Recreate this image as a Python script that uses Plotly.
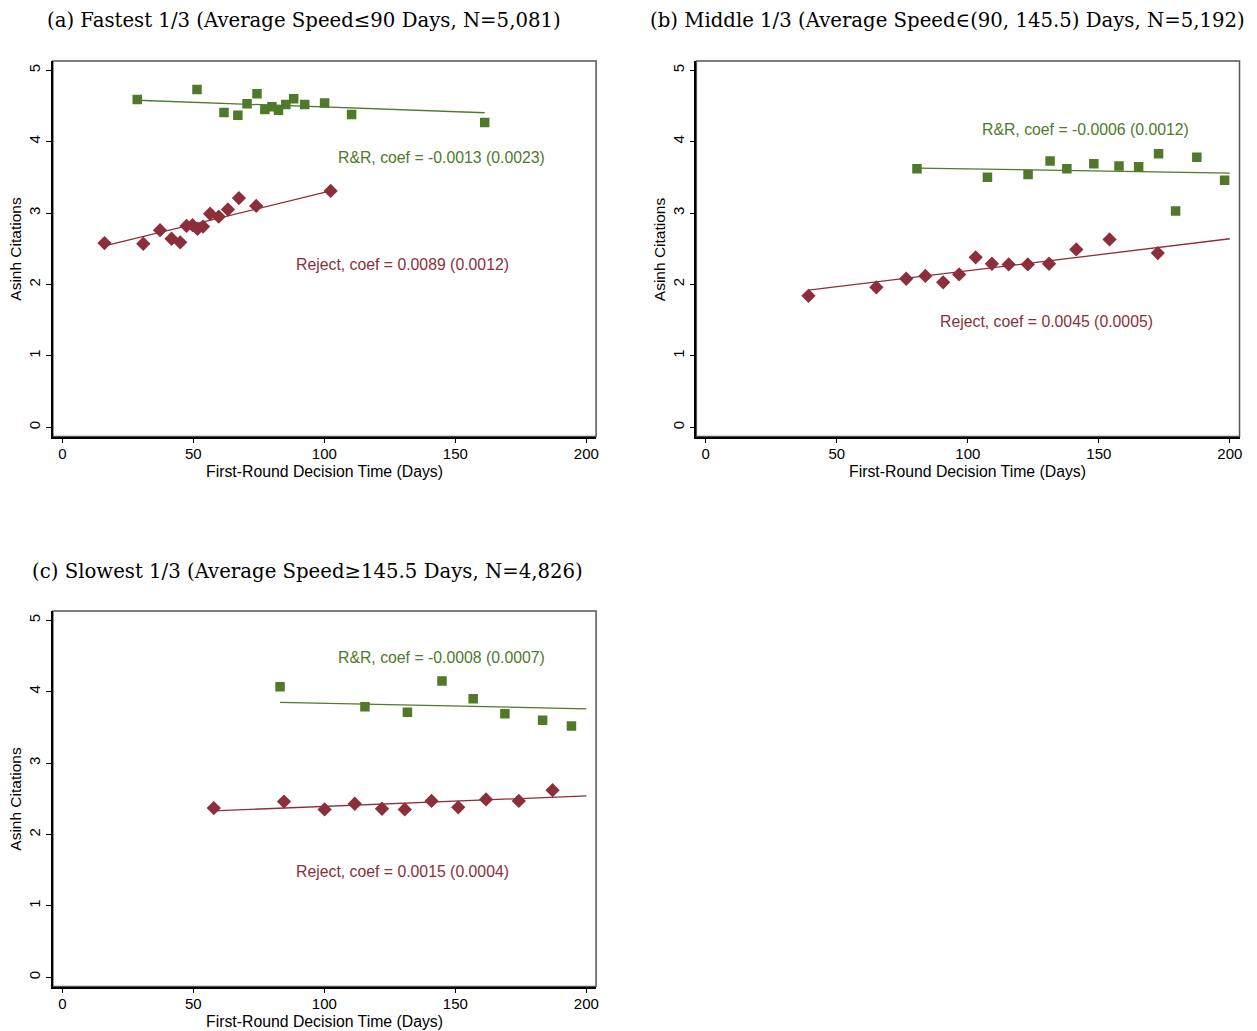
import plotly.graph_objects as go

# ---------------- data ----------------
# Panel (a) Fastest 1/3
a_rr_x = [28.6, 51.4, 61.7, 67.0, 70.5, 74.3, 77.3, 80.0, 82.5, 85.3, 88.3, 92.5, 100.1, 110.4, 161.2]
a_rr_y = [4.59, 4.73, 4.41, 4.37, 4.53, 4.67, 4.45, 4.49, 4.44, 4.52, 4.60, 4.52, 4.54, 4.38, 4.27]
a_rj_x = [16.1, 30.9, 37.3, 41.7, 45.0, 47.4, 49.7, 51.6, 53.7, 56.4, 59.7, 63.2, 67.4, 74.0, 102.4]
a_rj_y = [2.58, 2.57, 2.76, 2.64, 2.59, 2.82, 2.83, 2.78, 2.81, 2.99, 2.95, 3.05, 3.21, 3.10, 3.31]
a_rr_fit_x = [28.6, 161.2]
a_rr_fit_y = [4.58, 4.405]
a_rj_fit_x = [16.1, 102.4]
a_rj_fit_y = [2.54, 3.31]

# Panel (b) Middle 1/3
b_rr_x = [80.6, 107.5, 123.0, 131.4, 137.8, 148.1, 157.7, 165.2, 172.8, 179.3, 187.4, 198.0]
b_rr_y = [3.62, 3.50, 3.54, 3.73, 3.62, 3.69, 3.66, 3.65, 3.83, 3.03, 3.78, 3.46]
b_rj_x = [39.2, 65.1, 76.5, 83.8, 90.6, 96.7, 103.0, 109.2, 115.6, 122.9, 131.0, 141.4, 154.1, 172.5]
b_rj_y = [1.84, 1.96, 2.08, 2.12, 2.03, 2.14, 2.38, 2.29, 2.28, 2.28, 2.29, 2.49, 2.63, 2.44]
b_rr_fit_x = [80.6, 200.0]
b_rr_fit_y = [3.63, 3.56]
b_rj_fit_x = [39.2, 200.0]
b_rj_fit_y = [1.92, 2.64]

# Panel (c) Slowest 1/3
c_rr_x = [83.1, 115.5, 131.7, 144.9, 156.8, 168.9, 183.3, 194.3]
c_rr_y = [4.07, 3.79, 3.71, 4.15, 3.90, 3.69, 3.60, 3.52]
c_rj_x = [57.8, 84.6, 100.1, 111.6, 122.0, 130.7, 140.9, 151.1, 161.7, 174.2, 187.1]
c_rj_y = [2.37, 2.46, 2.35, 2.43, 2.36, 2.35, 2.47, 2.38, 2.49, 2.47, 2.62]
c_rr_fit_x = [83.1, 200.0]
c_rr_fit_y = [3.85, 3.76]
c_rj_fit_x = [57.8, 200.0]
c_rj_fit_y = [2.33, 2.54]

titles = [
    "(a) Fastest 1/3 (Average Speed\u226490 Days, N=5,081)",
    "(b) Middle 1/3 (Average Speed\u2208(90, 145.5) Days, N=5,192)",
    "(c) Slowest 1/3 (Average Speed\u2265145.5 Days, N=4,826)",
]
rr_labels = [
    "R&R, coef = -0.0013 (0.0023)",
    "R&R, coef = -0.0006 (0.0012)",
    "R&R, coef = -0.0008 (0.0007)",
]
rj_labels = [
    "Reject, coef = 0.0089 (0.0012)",
    "Reject, coef = 0.0045 (0.0005)",
    "Reject, coef = 0.0015 (0.0004)",
]
rr_label_pos = [(144.9, 3.78), (144.9, 4.17), (144.9, 4.48)]
rj_label_pos = [(130.0, 2.28), (130.0, 1.48), (130.0, 1.48)]
x_ticks = [0, 50, 100, 150, 200]
y_ticks = [0, 1, 2, 3, 4, 5]

# ---------------- style ----------------
W, H = 1257, 1031
GREEN = "#4e7a2a"
RED = "#8d2f3a"
SANS = "Liberation Sans, Arial, sans-serif"
SERIF = "DejaVu Serif, serif"

# panel boxes in pixels: (left, right, top, bottom)
boxes = [(53, 597.5, 61, 436.5), (698, 1242.5, 61, 436.5), (53, 597.5, 611, 986.5)]
title_px = [(45, 19), (650, 19), (30, 570)]

panels = [
    (a_rr_x, a_rr_y, a_rj_x, a_rj_y, a_rr_fit_x, a_rr_fit_y, a_rj_fit_x, a_rj_fit_y),
    (b_rr_x, b_rr_y, b_rj_x, b_rj_y, b_rr_fit_x, b_rr_fit_y, b_rj_fit_x, b_rj_fit_y),
    (c_rr_x, c_rr_y, c_rj_x, c_rj_y, c_rr_fit_x, c_rr_fit_y, c_rj_fit_x, c_rj_fit_y),
]

fig = go.Figure()
layout = dict(
    width=W, height=H, margin=dict(l=0, r=0, t=0, b=0),
    paper_bgcolor="white", plot_bgcolor="white", showlegend=False,
    font=dict(family=SANS, size=14, color="black"),
)
annotations = []
shapes = []

for i, (rrx, rry, rjx, rjy, rrfx, rrfy, rjfx, rjfy) in enumerate(panels):
    sfx = "" if i == 0 else str(i + 1)
    xa, ya = "x" + sfx, "y" + sfx
    l, r, t, b = boxes[i]
    layout["xaxis" + sfx] = dict(
        domain=[l / W, r / W], anchor=ya, range=[-3.6, 203.7],
        tickvals=x_ticks, ticks="outside", ticklen=5, tickwidth=1, tickcolor="black",
        showline=True, linecolor="black", linewidth=1.5, showgrid=False, zeroline=False,
        ticklabelstandoff=-2,
        tickfont=dict(family=SANS, size=15, color="black"),
    )
    layout["yaxis" + sfx] = dict(
        domain=[1 - b / H, 1 - t / H], anchor=xa, range=[-0.13, 5.13],
        tickvals=y_ticks, ticks="outside", ticklen=5, tickwidth=1, tickcolor="black",
        showline=True, linecolor="black", linewidth=1.5, showgrid=False, zeroline=False,
        tickangle=-90, tickfont=dict(family=SANS, size=15, color="black"),
    )
    # frame (top / right)
    shapes.append(dict(type="rect", xref=xa + " domain", yref=ya + " domain",
                       x0=0, x1=1, y0=0, y1=1, line=dict(color="#555555", width=1.5),
                       layer="below"))
    # fitted lines
    fig.add_trace(go.Scatter(x=rrfx, y=rrfy, mode="lines", xaxis=xa, yaxis=ya,
                             line=dict(color=GREEN, width=1.3)))
    fig.add_trace(go.Scatter(x=rjfx, y=rjfy, mode="lines", xaxis=xa, yaxis=ya,
                             line=dict(color=RED, width=1.3)))
    # markers
    fig.add_trace(go.Scatter(x=rrx, y=rry, mode="markers", xaxis=xa, yaxis=ya,
                             marker=dict(symbol="square", size=9.5, color=GREEN,
                                         line=dict(width=0))))
    fig.add_trace(go.Scatter(x=rjx, y=rjy, mode="markers", xaxis=xa, yaxis=ya,
                             marker=dict(symbol="diamond", size=11, color=RED,
                                         line=dict(width=0))))
    # coefficient labels
    annotations.append(dict(x=rr_label_pos[i][0], y=rr_label_pos[i][1], xref=xa, yref=ya,
                            text=rr_labels[i], showarrow=False,
                            font=dict(family=SANS, size=15.8, color=GREEN)))
    annotations.append(dict(x=rj_label_pos[i][0], y=rj_label_pos[i][1], xref=xa, yref=ya,
                            text=rj_labels[i], showarrow=False,
                            font=dict(family=SANS, size=15.8, color=RED)))
    # axis titles
    annotations.append(dict(x=(l + r) / 2 / W, y=1 - (b + 34.5) / H, xref="paper", yref="paper",
                            text="First-Round Decision Time (Days)", showarrow=False,
                            xanchor="center", yanchor="middle",
                            font=dict(family=SANS, size=15.8, color="black")))
    annotations.append(dict(x=(l - 37) / W, y=1 - ((t + b) / 2) / H, xref="paper", yref="paper",
                            text="Asinh Citations", showarrow=False, textangle=-90,
                            xanchor="center", yanchor="middle",
                            font=dict(family=SANS, size=15.5, color="black")))
    # panel title
    tx, ty = title_px[i]
    annotations.append(dict(x=tx / W, y=1 - (ty + 1) / H, xref="paper", yref="paper",
                            text=titles[i], showarrow=False, xanchor="left", yanchor="middle",
                            font=dict(family=SERIF, size=19.7, color="black")))

layout["annotations"] = annotations
layout["shapes"] = shapes
fig.update_layout(**layout)
fig.write_html("out.html")
